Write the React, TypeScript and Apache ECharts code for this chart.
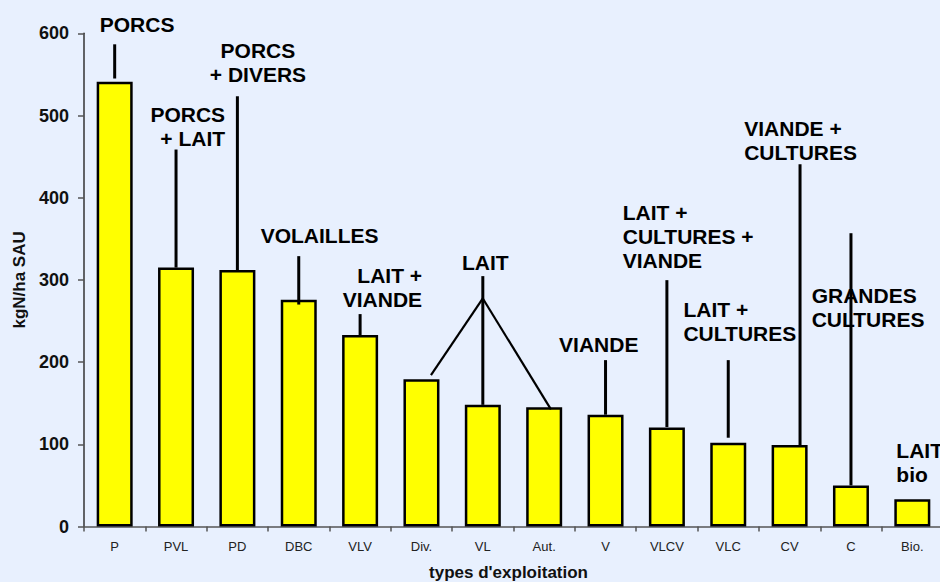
import React, { useEffect, useRef } from "react";
import * as echarts from "echarts";

// ---- data ----
const categories = ["P", "PVL", "PD", "DBC", "VLV", "Div.", "VL", "Aut.", "V", "VLCV", "VLC", "CV", "C", "Bio."];
const values = [541, 315, 312, 276, 233, 179, 148, 145, 136, 120.5, 102, 99, 50, 33];

const yMin = 0;
const yMax = 600;
const yInterval = 100;

const xAxisTitle = "types d'exploitation";
const yAxisTitle = "kgN/ha SAU";

// ---- annotations (category position, value position) ----
const annotationTexts = [
  "PORCS",
  "PORCS\n+ LAIT",
  "PORCS\n+ DIVERS",
  "VOLAILLES",
  "LAIT +\nVIANDE",
  "LAIT",
  "VIANDE",
  "LAIT +\nCULTURES +\nVIANDE",
  "LAIT +\nCULTURES",
  "VIANDE +\nCULTURES",
  "GRANDES\nCULTURES",
  "LAIT\nbio",
];
const annotationCat = [0.365, 1.8, 2.335, 3.34, 5.01, 6.04, 7.89, 8.28, 9.27, 10.26, 11.36, 12.74];
const annotationValue = [611, 487, 564.5, 354, 291, 321, 221.6, 352.6, 249.8, 469.4, 266.9, 78];
const annotationAlign = ["center", "right", "center", "center", "right", "center", "center", "left", "left", "left", "left", "left"];

// leader lines: from (cat, value) to (cat, value)
const leaderFromCat = [0, 1, 2, 3, 4, 6, 6, 6, 8, 9, 10, 11.17, 12];
const leaderFromValue = [586.6, 458.6, 523.4, 328.9, 258.4, 304.6, 277.4, 277.4, 202.4, 299.7, 202.4, 440.7, 356.8];
const leaderToCat = [0, 1, 2, 3, 4, 6, 5.155, 7.11, 8, 9, 10, 11.17, 12];
const leaderToValue = [545, 315, 312, 270, 233, 148, 184.2, 142.5, 136, 121, 108, 99, 50];
const leaderWidth = [3, 3, 3, 3, 3, 3, 2.2, 2.2, 3, 3, 3, 3, 3];

const FONT = '"Liberation Sans", Arial, sans-serif';

export default function App() {
  const ref = useRef<HTMLDivElement>(null);

  useEffect(() => {
    document.body.style.margin = "0";
    if (!ref.current) return;
    const chart = echarts.init(ref.current, undefined, { renderer: "svg" });

    const toPx = (api: any, cat: number, val: number) => {
      const p0 = api.coord([0, val]);
      const p1 = api.coord([1, val]);
      const bw = p1[0] - p0[0];
      return [p0[0] + cat * bw, p0[1]];
    };

    chart.setOption({
      animation: false,
      backgroundColor: "#E8F0FE",
      grid: {
        left: 84,
        right: -3,
        top: 33.3,
        bottom: 55.5,
        containLabel: false,
        outerBoundsMode: "none",
      },
      xAxis: {
        type: "category",
        data: categories,
        name: xAxisTitle,
        nameLocation: "middle",
        nameGap: 37,
        nameTextStyle: { fontFamily: FONT, fontWeight: "bold", fontSize: 17, color: "#111", padding: [0, 10, 0, 0] },
        axisLine: { lineStyle: { color: "#555", width: 1.5 } },
        axisTick: { show: true, length: 5, lineStyle: { color: "#555", width: 1.5 } },
        axisLabel: { fontFamily: FONT, fontSize: 13, color: "#222", margin: 13, interval: 0 },
      },
      yAxis: {
        type: "value",
        min: yMin,
        max: yMax,
        interval: yInterval,
        name: yAxisTitle,
        nameLocation: "middle",
        nameGap: 56,
        nameTextStyle: { fontFamily: FONT, fontWeight: "bold", fontSize: 17, color: "#111" },
        axisLine: { show: true, lineStyle: { color: "#333", width: 1.5 } },
        axisTick: { show: true, length: 6, lineStyle: { color: "#555", width: 1.5 } },
        axisLabel: { fontFamily: FONT, fontWeight: "bold", fontSize: 18, color: "#111", margin: 15 },
        splitLine: { show: false },
      },
      series: [
        {
          type: "bar",
          data: values,
          barWidth: 36,
          itemStyle: { color: "#FFFF00", borderColor: "#000", borderWidth: 2.5 },
          z: 2,
        },
        {
          type: "custom",
          coordinateSystem: "cartesian2d",
          z: 5,
          clip: false,
          silent: true,
          data: leaderFromCat.map(() => [0, 0]),
          renderItem: (params: any, api: any) => {
            const i = params.dataIndex;
            const a = toPx(api, leaderFromCat[i], leaderFromValue[i]);
            const b = toPx(api, leaderToCat[i], leaderToValue[i]);
            return {
              type: "line",
              shape: { x1: a[0], y1: a[1], x2: b[0], y2: b[1] },
              style: { stroke: "#000", lineWidth: leaderWidth[i] },
            };
          },
        },
        {
          type: "custom",
          coordinateSystem: "cartesian2d",
          z: 6,
          clip: false,
          silent: true,
          data: annotationTexts.map(() => [0, 0]),
          renderItem: (params: any, api: any) => {
            const i = params.dataIndex;
            const p = toPx(api, annotationCat[i], annotationValue[i]);
            return {
              type: "text",
              x: p[0],
              y: p[1],
              style: {
                text: annotationTexts[i],
                fill: "#000",
                fontFamily: FONT,
                fontWeight: "bold",
                fontSize: 21,
                lineHeight: 24,
                align: annotationAlign[i],
                verticalAlign: "middle",
              },
            };
          },
        },
      ],
    });

    return () => chart.dispose();
  }, []);

  return (
    <div
      ref={ref}
      style={{ position: "fixed", left: 0, top: 0, width: 940, height: 582 }}
    />
  );
}
